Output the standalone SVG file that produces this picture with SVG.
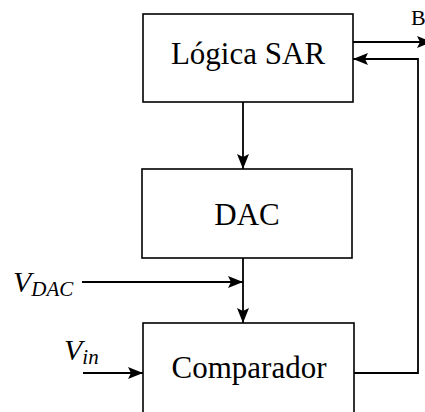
<svg xmlns="http://www.w3.org/2000/svg" width="425" height="412" viewBox="0 0 425 412">
<style>
.box{fill:#fff;stroke:#000;stroke-width:1.6}
.lbl{font-family:"Liberation Serif","Times New Roman",serif;font-size:31px;fill:#000;text-anchor:middle}
.math{font-family:"Liberation Serif","Times New Roman",serif;font-style:italic;fill:#000}
.wire{fill:none;stroke:#000;stroke-width:1.8}
</style>
<defs>
<marker id="arr" markerUnits="userSpaceOnUse" markerWidth="16" markerHeight="12" refX="15" refY="6" orient="auto">
<path d="M0,0 L15,6 L0,12 L3,6 Z" fill="#000"/>
</marker>
</defs>
<rect width="425" height="412" fill="#fff"/>
<g id="connectors">
<path class="wire" d="M243,102 V169" marker-end="url(#arr)"/>
<path class="wire" d="M243,258 V323" marker-end="url(#arr)"/>
<path class="wire" d="M82,282 H243" marker-end="url(#arr)"/>
<path class="wire" d="M83,373 H143" marker-end="url(#arr)"/>
<path class="wire" d="M353,42 H432" marker-end="url(#arr)"/>
<path class="wire" d="M354,373 H418 V59 H353" marker-end="url(#arr)"/>
</g>
<g id="sar">
<rect class="box" x="143" y="14" width="210" height="88"/>
<text class="lbl" x="248" y="64">Lógica SAR</text>
</g>
<g id="dac">
<rect class="box" x="142" y="169" width="210" height="89"/>
<text class="lbl" x="247" y="225">DAC</text>
</g>
<g id="comparador">
<rect class="box" x="143" y="323" width="211" height="110"/>
<text class="lbl" x="249" y="378">Comparador</text>
</g>
<g id="vdac">
<text class="math" x="13" y="292" font-size="30">V<tspan font-size="21" dy="4">DAC</tspan></text>
</g>
<g id="vin">
<text class="math" x="64" y="360" font-size="30">V<tspan font-size="21" dy="4">in</tspan></text>
</g>
<g id="b">
<text x="411" y="25" font-family="Liberation Serif,serif" font-size="22" fill="#000">B</text>
</g>
</svg>
